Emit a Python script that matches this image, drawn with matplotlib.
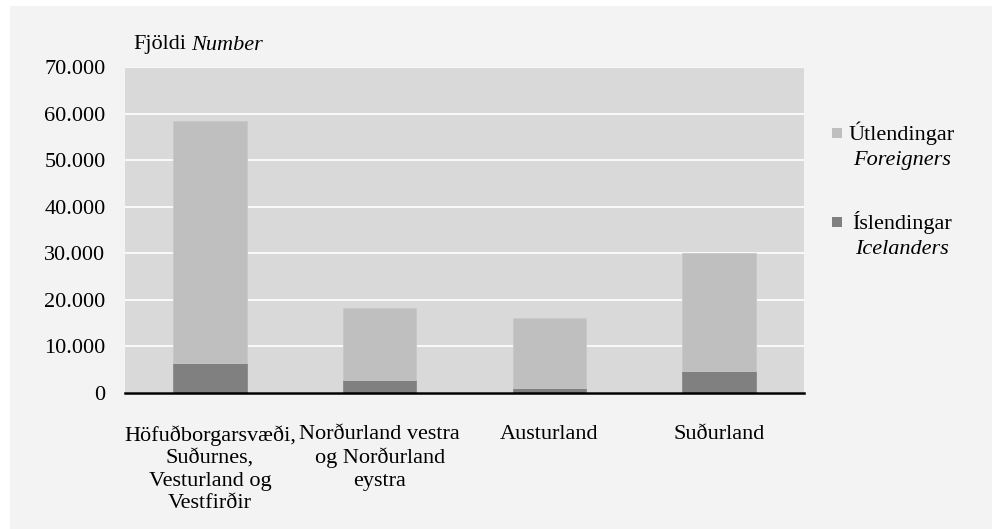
import matplotlib
matplotlib.use("Agg")
import matplotlib.pyplot as plt
from matplotlib.patches import Rectangle
from matplotlib.ticker import FuncFormatter

categories = ["Höfuðborgarsvæði,\nSuðurnes,\nVesturland og\nVestfirðir",
              "Norðurland vestra\nog Norðurland\neystra",
              "Austurland",
              "Suðurland"]
icelanders = [6500, 2700, 1000, 4800]
foreigners = [51900, 15500, 15000, 25200]
yticks = [0, 10000, 20000, 30000, 40000, 50000, 60000, 70000]

W, H = 994, 529
plt.rcParams['font.family'] = ['Liberation Serif', 'DejaVu Serif']
fs = 16

fig = plt.figure(figsize=(W / 100, H / 100), dpi=100)
fig.patch.set_facecolor('white')
bg = Rectangle((10 / W, 0), (992 - 10) / W, (529 - 6) / H,
               transform=fig.transFigure, facecolor='#f2f3f2',
               edgecolor='none', zorder=-10)
fig.patches.append(bg)

left, right, top, bottom = 125, 804, 67, 393
ax = fig.add_axes([left / W, 1 - bottom / H, (right - left) / W, (bottom - top) / H])
ax.set_zorder(2)
ax.set_facecolor('#d9d9d9')

x = list(range(len(categories)))
bw = 0.433
ax.bar(x, icelanders, width=bw, color='#808080', edgecolor='#8a8a8a', linewidth=0.6, zorder=3)
ax.bar(x, foreigners, width=bw, bottom=icelanders, color='#bfbfbf', edgecolor='#c8c8c8',
       linewidth=0.6, zorder=3)

ax.set_xlim(-0.5, len(categories) - 0.5)
ax.set_ylim(0, 70000)
ax.set_yticks(yticks)
ax.yaxis.set_major_formatter(FuncFormatter(lambda v, p: f"{int(v):,}".replace(",", ".")))
ax.grid(axis='y', color='white', linewidth=1.2, zorder=1)
ax.set_axisbelow(True)
for s in ['top', 'right', 'left']:
    ax.spines[s].set_visible(False)
ax.spines['bottom'].set_color('black')
ax.spines['bottom'].set_linewidth(1.8)
ax.spines['bottom'].set_zorder(5)
ax.tick_params(axis='y', length=0, pad=14, labelsize=fs)
ax.tick_params(axis='x', length=0, pad=23, labelsize=fs)
ax.set_xticks(x)
ax.set_xticklabels(categories, linespacing=1.25, va='top')

# axis title
t1 = fig.text(133 / W, 1 - 45 / H, "Fjöldi", fontsize=fs, va='center', ha='left')
fig.canvas.draw()
bb = t1.get_window_extent(fig.canvas.get_renderer())
fig.text((bb.x1 + 5) / W, 1 - 45 / H, "Number", fontsize=fs, va='center', ha='left',
         style='italic')

# legend
legend_items = [("Útlendingar", "Foreigners", '#bfbfbf', 133),
                ("Íslendingar", "Icelanders", '#808080', 222)]
for txt1, txt2, col, yc in legend_items:
    fig.patches.append(Rectangle((832 / W, 1 - (yc + 5) / H), 10 / W, 10 / H,
                                 transform=fig.transFigure, facecolor=col,
                                 edgecolor='none', zorder=3))
    fig.text(902 / W, 1 - yc / H, txt1, fontsize=fs, ha='center', va='center')
    fig.text(902 / W, 1 - (yc + 27) / H, txt2, fontsize=fs, ha='center', va='center',
             style='italic')

fig.savefig("out.png", dpi=100, facecolor=fig.get_facecolor())
